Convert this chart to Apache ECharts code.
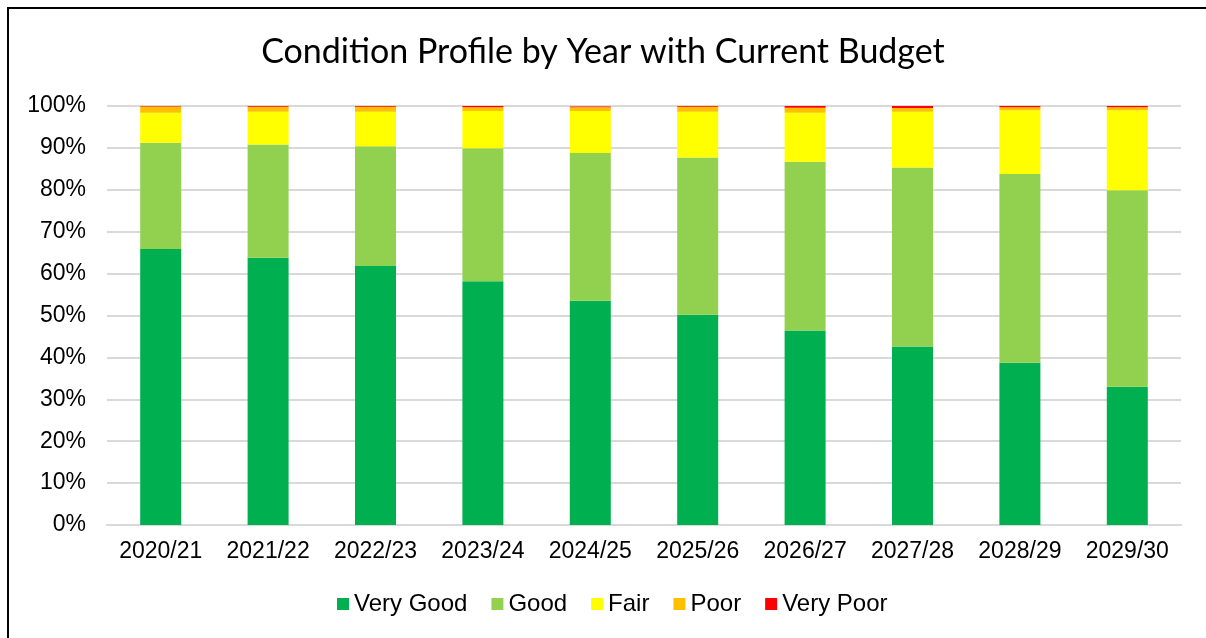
<!DOCTYPE html>
<html>
<head>
<meta charset="utf-8">
<script src="https://cdn.jsdelivr.net/npm/echarts@6/dist/echarts.min.js"></script>
<style>
    html, body { margin: 0; padding: 0; background: #fff; }
    #frame { position: absolute; left: 7px; top: 7px; width: 1206px; height: 640px;
        border-top: 2px solid #000; border-left: 2px solid #000; }
    #main { position: absolute; left: 0; top: 0; width: 1206px; height: 638px; }
</style>
</head>
<body>
<div id="frame"></div>
<div id="main"></div>
<script>
var years = ['2020/21', '2021/22', '2022/23', '2023/24', '2024/25', '2025/26', '2026/27', '2027/28', '2028/29', '2029/30'];
var veryGood = [65.9, 63.8, 61.8, 58.2, 53.5, 50.2, 46.4, 42.6, 38.7, 33.0];
var good = [25.3, 27.0, 28.6, 31.7, 35.3, 37.5, 40.3, 42.7, 45.1, 46.9];
var fair = [7.2, 7.8, 8.2, 8.9, 10.0, 10.9, 11.7, 13.3, 15.2, 19.1];
var poor = [1.5, 1.2, 1.2, 0.9, 0.9, 1.2, 1.2, 0.9, 0.7, 0.7];
var veryPoor = [0.1, 0.2, 0.2, 0.3, 0.2, 0.2, 0.4, 0.5, 0.3, 0.3];
var yTicks = [0, 10, 20, 30, 40, 50, 60, 70, 80, 90, 100];

var names = ['Very Good', 'Good', 'Fair', 'Poor', 'Very Poor'];
var colors = ['#00b050', '#92d050', '#ffff00', '#ffc000', '#ff0000'];
var values = [veryGood, good, fair, poor, veryPoor];

var myChart = echarts.init(document.getElementById('main'));
var series = [];
for (var i = 0; i < names.length; i++) {
    series.push({
        name: names[i],
        type: 'bar',
        stack: 'total',
        barWidth: 41,
        data: values[i],
        itemStyle: { color: colors[i] }
    });
}

var option = {
    animation: false,
    backgroundColor: 'rgba(0,0,0,0)',
    color: colors,
    title: {
        text: 'Condition Profile by Year with Current Budget',
        left: 'center',
        top: 30,
        textStyle: {
            fontFamily: 'Lato',
            fontSize: 34,
            fontWeight: 'normal',
            color: '#000'
        }
    },
    grid: {
        left: 107,
        right: 25,
        top: 106,
        bottom: 113
    },
    legend: {
        data: names,
        bottom: 17,
        left: 332,
        itemWidth: 12,
        itemHeight: 12,
        itemGap: 24,
        icon: 'rect',
        textStyle: {
            fontFamily: 'Liberation Sans',
            fontSize: 24,
            color: '#000'
        }
    },
    xAxis: {
        type: 'category',
        data: years,
        axisTick: { show: false },
        axisLine: { lineStyle: { color: '#d9d9d9', width: 2 } },
        axisLabel: {
            interval: 0,
            fontFamily: 'Liberation Sans',
            fontSize: 23,
            color: '#000',
            margin: 15
        }
    },
    yAxis: {
        type: 'value',
        min: yTicks[0],
        max: yTicks[yTicks.length - 1],
        interval: 10,
        axisLine: { show: false },
        axisTick: { show: false },
        splitLine: { lineStyle: { color: '#d9d9d9', width: 2 } },
        axisLabel: {
            fontFamily: 'Liberation Sans',
            fontSize: 23,
            color: '#000',
            margin: 21,
            formatter: '{value}%'
        }
    },
    series: series
};
myChart.setOption(option);
</script>
</body>
</html>
